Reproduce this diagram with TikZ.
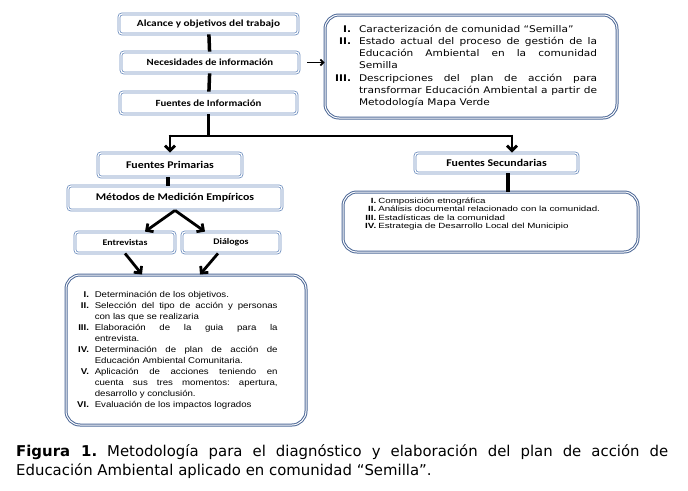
\documentclass[tikz,border=0pt]{standalone}
\usepackage{fontspec}
\usepackage{graphicx}
\setmainfont{DejaVu Sans}
\newfontfamily\carl{Carlito}
\newfontfamily\arialf{Liberation Sans}
\newfontfamily\dejav{DejaVu Sans}
\usetikzlibrary{arrows.meta}
\definecolor{boxblue}{HTML}{6F8FBF}
\definecolor{bigblue}{HTML}{4F6A98}
\newcommand{\jl}[2]{\makebox[#1][s]{#2}}
\newcommand{\sx}[1]{\scalebox{1.15}[1]{#1}}
\frenchspacing
\begin{document}
\begin{tikzpicture}[x=1pt,y=-1pt,
 sbox/.style={draw=boxblue, double=white, double distance=1.2pt, line width=0.8pt, rounded corners=3pt, inner sep=0pt, font=\carl\bfseries\fontsize{10.3}{11}\selectfont},
 tbox/.style={sbox, font=\carl\bfseries\fontsize{9.4}{10}\selectfont},
 bbox/.style={draw=bigblue, double=white, double distance=1pt, line width=1pt, rounded corners=14pt, inner sep=0pt},
 conn/.style={line width=3.5pt},
 arr/.style={line width=2.8pt, -{Straight Barb[length=5pt,width=10pt]}},
 txt/.style={inner sep=0pt}]
\useasboundingbox (0,0) rectangle (688,490);
% small boxes
\node[tbox, minimum width=179pt, minimum height=20pt] (alc) at (208.5,24) {\scalebox{1.2}[1]{Alcance y objetivos del trabajo}};
\node[tbox, minimum width=178pt, minimum height=21pt] (nec) at (210,62.5) {\sx{Necesidades de información}};
\node[tbox, minimum width=177pt, minimum height=22pt] (finfo) at (208.5,103) {\sx{Fuentes de Información}};
\node[sbox, minimum width=144pt, minimum height=24pt] (prim) at (170,165) {\sx{Fuentes Primarias}};
\node[sbox, minimum width=214pt, minimum height=24pt] (met) at (175,198) {\sx{Métodos de Medición Empíricos}};
\node[sbox, minimum width=100pt, minimum height=21pt, font=\carl\bfseries\fontsize{8.6}{9}\selectfont] (ent) at (125,242.5) {\sx{Entrevistas}};
\node[sbox, minimum width=98pt, minimum height=21pt, font=\carl\bfseries\fontsize{8.6}{9}\selectfont] (dia) at (231,242.5) {\sx{Diálogos}};
\node[sbox, minimum width=163pt, minimum height=20pt] (sec) at (496.5,163) {\sx{Fuentes Secundarias}};
% big boxes
\node[bbox, minimum width=292pt, minimum height=103pt] (tr) at (471,66.5) {};
\node[bbox, minimum width=240pt, minimum height=150pt] (bl) at (186,350) {};
\node[bbox, minimum width=295pt, minimum height=60pt] (br) at (490.5,222) {};
% texts in big boxes
\node[txt, anchor=west] (trt) at (335,66.5) {\scalebox{1.15}[1]{\dejav\fontsize{9.2}{12.2}\selectfont
\begin{tabular}{@{}r@{\hspace{7pt}}l@{}}
\textbf{I.} & Caracterización de comunidad “Semilla”\\
\textbf{II.} & \jl{207pt}{Estado actual del proceso de gestión de la}\\
 & \jl{207pt}{Educación Ambiental en la comunidad}\\
 & Semilla\\
\textbf{III.} & \jl{207pt}{Descripciones del plan de acción para}\\
 & \jl{207pt}{transformar Educación Ambiental a partir de}\\
 & Metodología Mapa Verde
\end{tabular}}};
\node[txt, anchor=west] (blt) at (77,350) {\scalebox{1.15}[1]{\arialf\fontsize{8.4}{11}\selectfont
\begin{tabular}{@{}r@{\hspace{5pt}}l@{}}
\textbf{I.} & Determinación de los objetivos.\\
\textbf{II.} & \jl{159pt}{Selección del tipo de acción y personas}\\
 & con las que se realizaria\\
\textbf{III.} & \jl{159pt}{Elaboración de la guia para la}\\
 & entrevista.\\
\textbf{IV.} & \jl{159pt}{Determinación de plan de acción de}\\
 & Educación Ambiental Comunitaria.\\
\textbf{V.} & \jl{159pt}{Aplicación de acciones teniendo en}\\
 & \jl{159pt}{cuenta sus tres momentos: apertura,}\\
 & desarrollo y conclusión.\\
\textbf{VI.} & Evaluación de los impactos logrados
\end{tabular}}};
\node[txt, anchor=west] (brt) at (365,214.5) {\scalebox{1.3}[1]{\arialf\fontsize{7.5}{8.4}\selectfont
\begin{tabular}{@{}r@{\hspace{1.6pt}}l@{}}
\textbf{I.} & Composición etnográfica\\
\textbf{II.} & Análisis documental relacionado con la comunidad.\\
\textbf{III.} & Estadísticas de la comunidad\\
\textbf{IV.} & Estrategia de Desarrollo Local del Municipio
\end{tabular}}};
% connectors
\draw[conn] (alc) -- (nec);
\draw[conn] (nec) -- (finfo);
\coordinate (split) at (finfo.south |- 0,136);
\coordinate (splitL) at (prim.north |- split);
\coordinate (splitR) at ([xshift=15.5pt]sec.north |- split);
\draw[conn] (finfo.south) -- ([yshift=1.4pt]split);
\draw[line width=2.8pt] ([xshift=-1.4pt]splitL) -- ([xshift=1.4pt]splitR);
\draw[arr] ([yshift=1.3pt]splitL) -- (prim.north);
\draw[arr] ([yshift=1.3pt]splitR) -- ([xshift=15.5pt]sec.north);
\draw[conn] ([xshift=-2pt]prim.south) -- ([xshift=-2pt]prim.south |- met.north);
\draw[arr] (met.south) -- ([xshift=20pt]ent.north);
\draw[arr] (met.south) -- ([xshift=-26pt]dia.north);
\draw[arr] ([xshift=0pt]ent.south) -- ([xshift=-44pt]bl.north);
\draw[arr] ([xshift=-13pt]dia.south) -- ([xshift=14pt]bl.north);
\draw[conn] ([xshift=11.5pt]sec.south) -- ([xshift=11.5pt]sec.south |- br.north);
\draw[line width=1.6pt, -{Straight Barb[length=3pt,width=6pt]}] ([xshift=8pt]nec.east) -- (tr.west |- nec.east);
% caption
\node[txt, anchor=base west, text width=652pt, align=justify, font=\dejav\fontsize{14.9}{19}\selectfont] (cap) at (16,456) {\textbf{Figura 1.} Metodología para el diagnóstico y elaboración del plan de acción de\linebreak Educación Ambiental aplicado en comunidad “Semilla”.};
\end{tikzpicture}
\end{document}
